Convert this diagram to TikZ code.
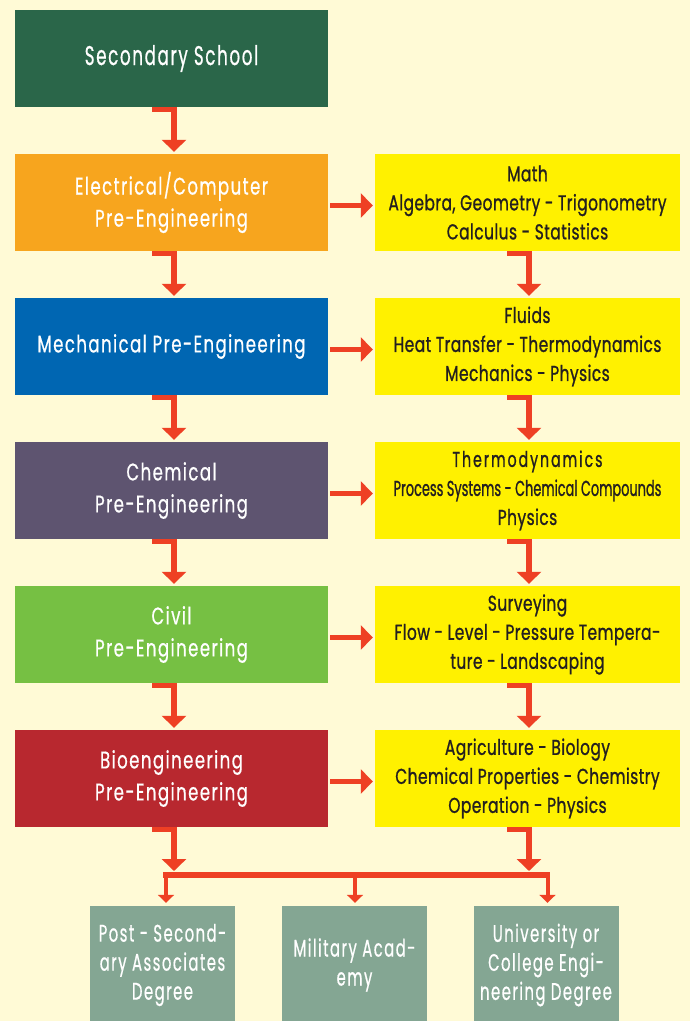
\documentclass[tikz,border=0pt]{standalone}
\usepackage{fontspec}
\usetikzlibrary{arrows.meta,calc}
\newfontfamily\sfont[FakeStretch=0.62,LetterSpace=6,FakeBold=0.6]{Poppins}
\newfontfamily\wfont[FakeStretch=0.69,LetterSpace=6,FakeBold=0.6]{Poppins}
\newfontfamily\bfont[FakeStretch=0.62,LetterSpace=6,FakeBold=0.6]{Poppins}
\newfontfamily\dfont[FakeStretch=0.72,LetterSpace=2,FakeBold=0.9]{Poppins}
\newfontfamily\dtight[FakeStretch=0.6,FakeBold=0.9]{Poppins}
\newfontfamily\dwide[FakeStretch=0.66,LetterSpace=9,FakeBold=0.9]{Poppins}
\definecolor{bg}{HTML}{FFFAD6}
\definecolor{dkgreen}{HTML}{2A6649}
\definecolor{orng}{HTML}{F7A51E}
\definecolor{blu}{HTML}{0066B2}
\definecolor{purp}{HTML}{5E5470}
\definecolor{grn}{HTML}{76C043}
\definecolor{redb}{HTML}{B8282F}
\definecolor{ylw}{HTML}{FFF100}
\definecolor{arr}{HTML}{EE4024}
\definecolor{gry}{HTML}{84A693}
\definecolor{txt}{HTML}{231F20}
\begin{document}
\begin{tikzpicture}[x=1pt,y=-1pt,
  box/.style={rectangle, inner sep=0pt, align=center},
  lbox/.style={box, minimum width=313pt, minimum height=97pt, text=white,
    font=\wfont\fontsize{24}{32}\selectfont},
  rbox/.style={box, fill=ylw, minimum width=305pt, minimum height=97pt, text=txt,
    font=\dfont\fontsize{21.5}{29}\selectfont},
  bbox/.style={box, fill=gry, minimum width=145pt, minimum height=118pt, text=white,
    font=\bfont\fontsize{24}{29}\selectfont},
  conn/.style={draw=arr, line width=5.5pt, line join=miter,
    -{Triangle[width=24pt,length=12pt]}},
  busline/.style={draw=arr, line width=6pt},
  drop/.style={draw=arr, line width=4pt, -{Triangle[width=16pt,length=8pt]}}]
\useasboundingbox (0,0) rectangle (690,1021);
\fill[bg] (0,0) rectangle (690,1021);

% left column
\node[lbox, fill=dkgreen, font=\sfont\fontsize{27}{32}\selectfont] (s0) at (171.5,58.5) {Secondary School};
\node[lbox, fill=orng] (e1) at (171.5,202.5) {Electrical/Computer\\Pre-Engineering};
\node[lbox, fill=blu] (e2) at (171.5,346.5) {Mechanical Pre-Engineering};
\node[lbox, fill=purp] (e3) at (171.5,490.5) {Chemical\\Pre-Engineering};
\node[lbox, fill=grn] (e4) at (171.5,634.5) {Civil\\Pre-Engineering};
\node[lbox, fill=redb] (e5) at (171.5,778.5) {Bioengineering\\Pre-Engineering};

% right column
\node[rbox] (m1) at (527.5,202.5) {Math\\Algebra, Geometry - Trigonometry\\Calculus - Statistics};
\node[rbox] (m2) at (527.5,346.5) {Fluids\\Heat Transfer - Thermodynamics\\Mechanics - Physics};
\node[rbox] (m3) at (527.5,490.5) {{\dwide Thermodynamics}\\{\dtight Process Systems - Chemical Compounds}\\Physics};
\node[rbox] (m4) at (527.5,634.5) {Surveying\\Flow - Level - Pressure Tempera-\\ture - Landscaping};
\node[rbox] (m5) at (527.5,778.5) {Agriculture - Biology\\Chemical Properties - Chemistry\\Operation - Physics};

% bottom
\node[bbox] (pb) at (162.5,965) {Post - Second-\\ary Associates\\Degree};
\node[bbox] (ma) at (354.5,965) {Military Acad-\\emy};
\node[bbox] (ud) at (546,965) {University or\\College Engi-\\neering Degree};

% vertical connectors left
\foreach \a/\b in {s0/e1,e1/e2,e2/e3,e3/e4,e4/e5}{
  \draw[conn] ($(\a.south)+(-19.5,2.5)$) -- ($(\a.south)+(2.5,2.5)$) -- ($(\b.north)+(2.5,-2)$);
}
% vertical connectors right
\foreach \a/\b in {m1/m2,m2/m3,m3/m4,m4/m5}{
  \draw[conn] ($(\a.south)+(-20.5,2.5)$) -- ($(\a.south)+(1.5,2.5)$) -- ($(\b.north)+(1.5,-2)$);
}
% horizontal connectors
\foreach \a/\b in {e1/m1,e2/m2,e3/m3,e4/m4,e5/m5}{
  \draw[conn] ($(\a.east)+(2,3)$) -- ($(\b.west)+(-2,3)$);
}

% merge to bus
\coordinate (t1) at (174,871);
\coordinate (t2) at (529,871);
\draw[conn] ($(e5.south)+(-19.5,2.5)$) -- ($(e5.south)+(2.5,2.5)$) -- (t1);
\draw[conn] ($(m5.south)+(-20.5,2.5)$) -- ($(m5.south)+(1.5,2.5)$) -- (t2);
\coordinate (busL) at (163,875);
\coordinate (busR) at (550,875);
\draw[busline] (busL) -- (busR);
\coordinate (d1) at (166,875);
\coordinate (d2) at (355,875);
\coordinate (d3) at (547.5,875);
\draw[drop] (d1) -- ([xshift=3.5pt,yshift=3pt]pb.north);
\draw[drop] (d2) -- ([xshift=0.5pt,yshift=3pt]ma.north);
\draw[drop] (d3) -- ([xshift=1.5pt,yshift=3pt]ud.north);
\end{tikzpicture}
\end{document}
